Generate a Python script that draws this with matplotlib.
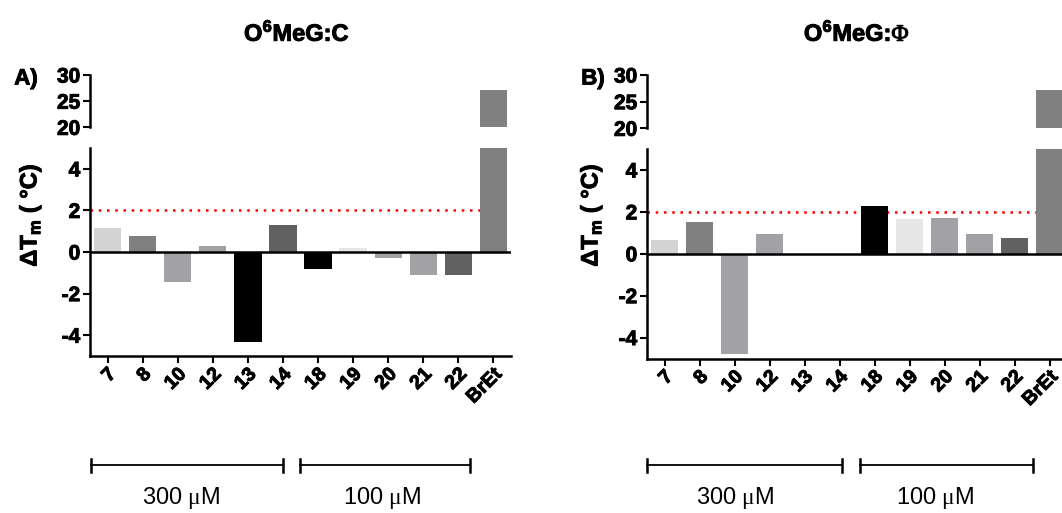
import matplotlib
matplotlib.use("Agg")
import matplotlib.pyplot as plt
import matplotlib.patheffects as pe
from matplotlib.lines import Line2D
import numpy as np

plt.rcParams['font.family'] = ['Liberation Sans', 'DejaVu Sans']
plt.rcParams['font.weight'] = 'bold'
plt.rcParams['axes.unicode_minus'] = False
plt.rcParams['mathtext.fontset'] = 'custom'
plt.rcParams['mathtext.bf'] = 'Liberation Sans:bold'
plt.rcParams['mathtext.rm'] = 'Liberation Serif:normal'

# data
compounds = ['7', '8', '10', '12', '13', '14', '18', '19', '20', '21', '22', 'BrEt']
dtm_c = [1.15, 0.75, -1.42, 0.29, -4.34, 1.29, -0.80, 0.17, -0.27, -1.10, -1.10, 27.2]
dtm_phi = [0.66, 1.52, -4.80, 0.95, 0.0, 0.0, 2.29, 1.67, 1.73, 0.96, 0.77, 27.2]
bar_colors = ['#d3d3d3', '#808080', '#a2a2a6', '#a2a2a6', '#000000', '#616161',
              '#000000', '#e6e6e6', '#a2a2a6', '#a2a2a6', '#616161', '#808080']
threshold = 2.0
groups = ['300 $\\mathrm{\\mu}$M', '100 $\\mathrm{\\mu}$M']

W, H = 1062, 513
fig = plt.figure(figsize=(W / 100, H / 100), dpi=100)
heavy = [pe.withStroke(linewidth=0.7, foreground='black')]


def px_axes(left, right, top, bottom):
    return fig.add_axes([left / W, 1 - bottom / H, (right - left) / W, (bottom - top) / H])


def draw_panel(vals, lo_box, hi_box, title, title_x, letter, letter_x, label_x,
               brackets, group_x):
    x = np.arange(len(compounds))
    ax = px_axes(*lo_box)
    axt = px_axes(*hi_box)
    for a in (ax, axt):
        a.bar(x, vals, width=0.78, color=bar_colors, edgecolor='none', zorder=3)
        a.set_xlim(-0.5, 11.5)
        a.patch.set_alpha(0)
        for s in ['top', 'right']:
            a.spines[s].set_visible(False)
        a.spines['left'].set_linewidth(1.8)
        a.spines['bottom'].set_linewidth(1.8)
        a.tick_params(width=1.5, length=5, labelsize=15, pad=2)

    ax.set_ylim(-5, 5)
    ax.set_yticks([-4, -2, 0, 2, 4])
    ax.set_yticklabels(['-4', '-2', '0', '2', '4'], fontsize=15)
    ax.axhline(0, color='black', lw=1.8, zorder=4)
    ax.axhline(threshold, color='red', lw=1.8, ls=(0, (1, 2.3)), zorder=2)
    ax.set_xticks(x)
    ax.set_xticklabels(compounds, rotation=45, ha='right', va='top',
                       rotation_mode='anchor', fontsize=14)

    axt.set_ylim(20, 30)
    axt.set_yticks([20, 25, 30])
    axt.set_yticklabels(['20', '25', '30'], fontsize=15)
    axt.spines['bottom'].set_visible(False)
    axt.set_xticks([])
    axt.axhline(threshold, color='red', lw=1.8, ls=(0, (1, 2.3)), zorder=2)

    for lab in ax.get_yticklabels() + ax.get_xticklabels() + axt.get_yticklabels():
        lab.set_fontweight('bold')
        lab.set_path_effects(heavy)

    fig.text(title_x / W, 1 - 33 / H, title, ha='center', va='center', fontsize=17,
             fontweight='bold', path_effects=heavy)
    fig.text(letter_x / W, 1 - 79 / H, letter, ha='center', va='center', fontsize=16,
             fontweight='bold', path_effects=heavy)
    fig.text(label_x / W, 1 - 215 / H, 'ΔT$_{\\mathbf{m}}$ ( °C)', rotation=90,
             ha='center', va='center', fontsize=17, fontweight='bold', path_effects=heavy)

    yb = 1 - 465 / H
    cap = 6.5 / H
    for (x0, x1), gx, g in zip(brackets, group_x, groups):
        fig.add_artist(Line2D([x0 / W, x1 / W], [yb, yb], color='black', lw=1.3))
        for xe in (x0, x1):
            fig.add_artist(Line2D([xe / W, xe / W], [yb - cap, yb + cap], color='black', lw=1.8))
        fig.text(gx / W, 1 - 498 / H, g, ha='center', va='center', fontsize=17,
                 fontweight='normal')


draw_panel(dtm_c, (90, 511, 148, 356), (90, 511, 75, 127.3),
           'O$^{\\mathbf{6}}$MeG:C', 297, 'A)', 26, 30,
           [(91, 283), (300, 470)], [181, 382])
draw_panel(dtm_phi, (647, 1067, 149, 358.5), (647, 1067, 75, 128.3),
           'O$^{\\mathbf{6}}$MeG:$\\mathrm{\\Phi}$', 857, 'B)', 593, 591,
           [(647, 842), (860, 1033)], [735, 935])

fig.savefig('out.png', dpi=100)
